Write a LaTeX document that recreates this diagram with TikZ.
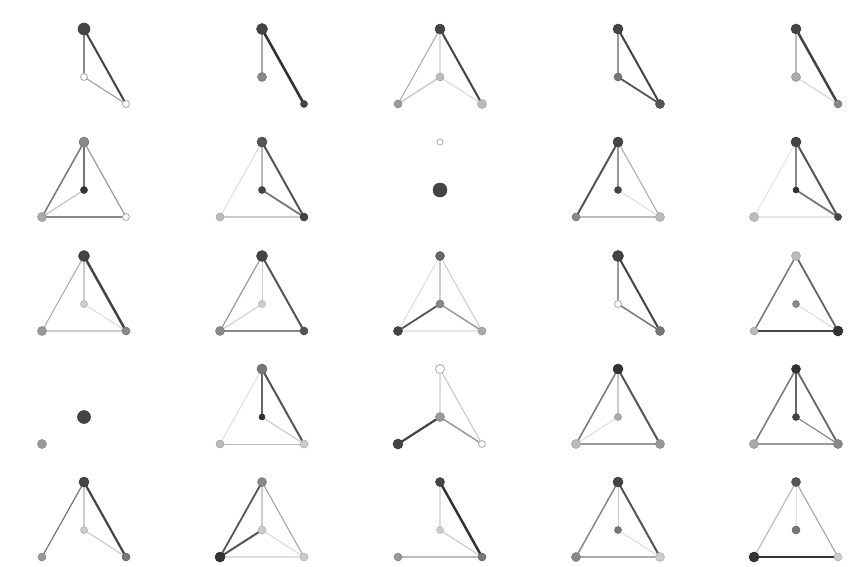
\documentclass[tikz,border=0pt]{standalone}
\usetikzlibrary{backgrounds}
\pgfdeclarelayer{back}
\pgfsetlayers{back,background,main}
\definecolor{g3}{HTML}{333333}
\definecolor{g4}{HTML}{444444}
\definecolor{g5}{HTML}{555555}
\definecolor{g6}{HTML}{666666}
\definecolor{g7}{HTML}{777777}
\definecolor{g8}{HTML}{888888}
\definecolor{g9}{HTML}{999999}
\definecolor{ga}{HTML}{AAAAAA}
\definecolor{gb}{HTML}{BBBBBB}
\definecolor{gc}{HTML}{CCCCCC}
\definecolor{gd}{HTML}{DDDDDD}
\definecolor{ge}{HTML}{E6E6E6}
\tikzset{
  dot/.style={circle,inner sep=0pt,outer sep=0pt,line width=0.5pt},
  edge/.style={line cap=round}
}
\newcommand\V[4]{\node[dot,fill=#3,draw=#3!85!black,minimum size=#4pt] (#1) at (#2) {};}
\newcommand\W[3]{\node[dot,fill=white,draw=ga,line width=0.8pt,minimum size=#3pt] (#1) at (#2) {};}
\newcommand\E[4]{\begin{pgfonlayer}{background}\draw[edge,draw=#3,line width=#4pt] (#1) -- (#2);\end{pgfonlayer}}
\begin{document}
\begin{tikzpicture}[x=1pt,y=-1pt]
\begin{pgfonlayer}{back}
\fill[white] (0,0) rectangle (864,567);
\end{pgfonlayer}
\useasboundingbox (0,0) rectangle (864,567);
% ---------- row a ----------
\begin{scope}[shift={(84,29)}]
\V{a1T}{0,0}{g4}{12}\W{a1C}{0,48}{7}\W{a1R}{42,75}{7}
\E{a1T}{a1C}{g8}{2.2}\E{a1T}{a1R}{g4}{2}\E{a1C}{a1R}{g9}{1}
\end{scope}
\begin{scope}[shift={(262,29)}]
\V{a2T}{0,0}{g4}{11}\V{a2C}{0,48}{g8}{9}\V{a2R}{42,75}{g4}{7}
\E{a2T}{a2C}{ga}{1.5}\E{a2T}{a2R}{g3}{2.6}
\end{scope}
\begin{scope}[shift={(440,29)}]
\V{a3T}{0,0}{g4}{10}\V{a3C}{0,48}{gb}{8}\V{a3L}{-42,75}{g9}{8}\V{a3R}{42,75}{gb}{9}
\E{a3T}{a3L}{ga}{1}\E{a3T}{a3C}{gd}{2}\E{a3T}{a3R}{g4}{2}\E{a3C}{a3L}{gc}{1.5}\E{a3C}{a3R}{gd}{1.2}
\end{scope}
\begin{scope}[shift={(618,29)}]
\V{a4T}{0,0}{g4}{10}\V{a4C}{0,48}{g7}{8}\V{a4R}{42,75}{g5}{9}
\E{a4T}{a4C}{g9}{1.5}\E{a4T}{a4R}{g4}{2}\E{a4C}{a4R}{g5}{1.8}
\end{scope}
\begin{scope}[shift={(796,29)}]
\V{a5T}{0,0}{g4}{10}\V{a5C}{0,48}{ga}{9}\V{a5R}{42,75}{g8}{8}
\E{a5T}{a5C}{gb}{1.2}\E{a5T}{a5R}{g4}{2.5}\E{a5C}{a5R}{gd}{1.5}
\end{scope}
% ---------- row b ----------
\begin{scope}[shift={(84,142)}]
\V{b1T}{0,0}{g8}{10}\V{b1C}{0,48}{g3}{7}\V{b1L}{-42,75}{ga}{9}\W{b1R}{42,75}{7}
\E{b1T}{b1C}{g7}{2}\E{b1T}{b1L}{g7}{1.5}\E{b1T}{b1R}{g9}{1.2}\E{b1C}{b1L}{gc}{1.5}\E{b1L}{b1R}{g8}{2}
\end{scope}
\begin{scope}[shift={(262,142)}]
\V{b2T}{0,0}{g5}{10}\V{b2C}{0,48}{g4}{7}\V{b2L}{-42,75}{gb}{8}\V{b2R}{42,75}{g4}{8}
\E{b2T}{b2C}{gb}{1.5}\E{b2T}{b2L}{gd}{1}\E{b2T}{b2R}{g5}{2}\E{b2C}{b2R}{g7}{1.8}\E{b2L}{b2R}{gc}{1.2}
\end{scope}
\begin{scope}[shift={(440,142)}]
\W{b3T}{0,0}{6}\V{b3C}{0,48}{g4}{14}
\end{scope}
\begin{scope}[shift={(618,142)}]
\V{b4T}{0,0}{g4}{10}\V{b4C}{0,48}{g4}{7}\V{b4L}{-42,75}{g8}{8}\V{b4R}{42,75}{gb}{9}
\E{b4T}{b4L}{g5}{2}\E{b4T}{b4C}{g9}{1.2}\E{b4T}{b4R}{ga}{1}\E{b4L}{b4R}{gb}{1.5}\E{b4C}{b4R}{gd}{1}
\end{scope}
\begin{scope}[shift={(796,142)}]
\V{b5T}{0,0}{g4}{10}\V{b5C}{0,48}{g3}{6}\V{b5L}{-42,75}{gb}{9}\V{b5R}{42,75}{g4}{7}
\E{b5T}{b5C}{g8}{1.2}\E{b5T}{b5R}{g5}{2}\E{b5C}{b5R}{g7}{1.8}\E{b5L}{b5R}{ge}{1.5}\E{b5T}{b5L}{ge}{1}
\end{scope}
% ---------- row c ----------
\begin{scope}[shift={(84,256)}]
\V{c1T}{0,0}{g4}{11}\V{c1C}{0,48}{gc}{7}\V{c1L}{-42,75}{g9}{9}\V{c1R}{42,75}{g8}{8}
\E{c1T}{c1L}{ga}{1}\E{c1T}{c1C}{gc}{1.2}\E{c1T}{c1R}{g4}{2.5}\E{c1C}{c1R}{gd}{1}\E{c1L}{c1R}{gc}{1.2}
\end{scope}
\begin{scope}[shift={(262,256)}]
\V{c2T}{0,0}{g4}{11}\V{c2C}{0,48}{gc}{7}\V{c2L}{-42,75}{g8}{9}\V{c2R}{42,75}{g5}{8}
\E{c2T}{c2L}{g9}{1.2}\E{c2T}{c2C}{gc}{1}\E{c2T}{c2R}{g5}{2}\E{c2C}{c2L}{gc}{1}\E{c2L}{c2R}{g8}{2}
\end{scope}
\begin{scope}[shift={(440,256)}]
\V{c3T}{0,0}{g6}{9}\V{c3C}{0,48}{g8}{8}\V{c3L}{-42,75}{g4}{9}\V{c3R}{42,75}{ga}{8}
\E{c3T}{c3L}{gd}{1}\E{c3T}{c3C}{gc}{1.5}\E{c3T}{c3R}{gc}{1}\E{c3C}{c3L}{g5}{1.8}\E{c3C}{c3R}{g9}{1.5}\E{c3L}{c3R}{ge}{2}
\end{scope}
\begin{scope}[shift={(618,256)}]
\V{c4T}{0,0}{g4}{11}\W{c4C}{0,48}{7}\V{c4R}{42,75}{g7}{9}
\E{c4T}{c4C}{g9}{1.5}\E{c4T}{c4R}{g4}{2}\E{c4C}{c4R}{g7}{1.5}
\end{scope}
\begin{scope}[shift={(796,256)}]
\V{c5T}{0,0}{gb}{9}\V{c5C}{0,48}{g8}{7}\V{c5L}{-42,75}{gb}{8}\V{c5R}{42,75}{g3}{10}
\E{c5T}{c5L}{g7}{1.5}\E{c5T}{c5R}{g6}{1.8}\E{c5L}{c5R}{g4}{2.2}\E{c5C}{c5R}{gd}{1}
\end{scope}
% ---------- row d ----------
\begin{scope}[shift={(84,369)}]
\V{d1C}{0,48}{g4}{13}\V{d1L}{-42,75}{g9}{9}
\end{scope}
\begin{scope}[shift={(262,369)}]
\V{d2T}{0,0}{g7}{10}\V{d2C}{0,48}{g3}{6}\V{d2L}{-42,75}{gb}{8}\V{d2R}{42,75}{gc}{8}
\E{d2T}{d2C}{g6}{1.8}\E{d2T}{d2R}{g5}{2}\E{d2T}{d2L}{gd}{1}\E{d2C}{d2R}{gc}{1.2}\E{d2L}{d2R}{gb}{1}
\end{scope}
\begin{scope}[shift={(440,369)}]
\W{d3T}{0,0}{9}\V{d3C}{0,48}{g9}{9}\V{d3L}{-42,75}{g4}{10}\W{d3R}{42,75}{7}
\E{d3T}{d3C}{gd}{2}\E{d3T}{d3R}{gc}{1.2}\E{d3C}{d3L}{g4}{2.2}\E{d3C}{d3R}{g9}{1.5}
\end{scope}
\begin{scope}[shift={(618,369)}]
\V{d4T}{0,0}{g3}{10}\V{d4C}{0,48}{ga}{7}\V{d4L}{-42,75}{gb}{9}\V{d4R}{42,75}{g9}{9}
\E{d4T}{d4L}{g7}{1.5}\E{d4T}{d4C}{gc}{1.2}\E{d4T}{d4R}{g5}{2}\E{d4L}{d4R}{g9}{1.2}\E{d4C}{d4L}{gd}{1}
\end{scope}
\begin{scope}[shift={(796,369)}]
\V{d5T}{0,0}{g3}{9}\V{d5C}{0,48}{g4}{7}\V{d5L}{-42,75}{ga}{9}\V{d5R}{42,75}{g8}{9}
\E{d5T}{d5L}{g7}{1.5}\E{d5T}{d5C}{g6}{1.5}\E{d5T}{d5R}{g6}{1.8}\E{d5C}{d5R}{g8}{1.2}\E{d5L}{d5R}{g9}{1.2}
\end{scope}
% ---------- row e ----------
\begin{scope}[shift={(84,482)}]
\V{e1T}{0,0}{g4}{10}\V{e1C}{0,48}{gc}{7}\V{e1L}{-42,75}{g9}{8}\V{e1R}{42,75}{g7}{8}
\E{e1T}{e1L}{g7}{1.2}\E{e1T}{e1C}{gc}{1.2}\E{e1T}{e1R}{g4}{2.2}\E{e1C}{e1R}{gc}{1.2}
\end{scope}
\begin{scope}[shift={(262,482)}]
\V{e2T}{0,0}{g8}{9}\V{e2C}{0,48}{gc}{8}\V{e2L}{-42,75}{g3}{10}\V{e2R}{42,75}{gc}{8}
\E{e2T}{e2L}{g5}{1.8}\E{e2T}{e2C}{gc}{1.2}\E{e2T}{e2R}{ga}{1.2}\E{e2C}{e2L}{g5}{2}\E{e2C}{e2R}{gd}{1.2}\E{e2L}{e2R}{gd}{1.2}
\end{scope}
\begin{scope}[shift={(440,482)}]
\V{e3T}{0,0}{g4}{9}\V{e3C}{0,48}{gc}{7}\V{e3L}{-42,75}{g9}{8}\V{e3R}{42,75}{g7}{8}
\E{e3T}{e3C}{gd}{1.5}\E{e3T}{e3R}{g3}{2.5}\E{e3C}{e3R}{gc}{1.2}\E{e3L}{e3R}{gb}{1.5}
\end{scope}
\begin{scope}[shift={(618,482)}]
\V{e4T}{0,0}{g4}{10}\V{e4C}{0,48}{g7}{7}\V{e4L}{-42,75}{g8}{9}\V{e4R}{42,75}{gc}{9}
\E{e4T}{e4L}{g8}{1.5}\E{e4T}{e4C}{gc}{1}\E{e4T}{e4R}{g5}{2}\E{e4L}{e4R}{ga}{1.5}\E{e4C}{e4R}{gd}{1}
\end{scope}
\begin{scope}[shift={(796,482)}]
\V{e5T}{0,0}{g5}{9}\V{e5C}{0,48}{g7}{8}\V{e5L}{-42,75}{g3}{10}\V{e5R}{42,75}{gc}{8}
\E{e5T}{e5L}{gb}{1.2}\E{e5T}{e5R}{ga}{1.2}\E{e5L}{e5R}{g3}{2.5}\E{e5T}{e5C}{ge}{0.8}
\end{scope}
\end{tikzpicture}
\end{document}
